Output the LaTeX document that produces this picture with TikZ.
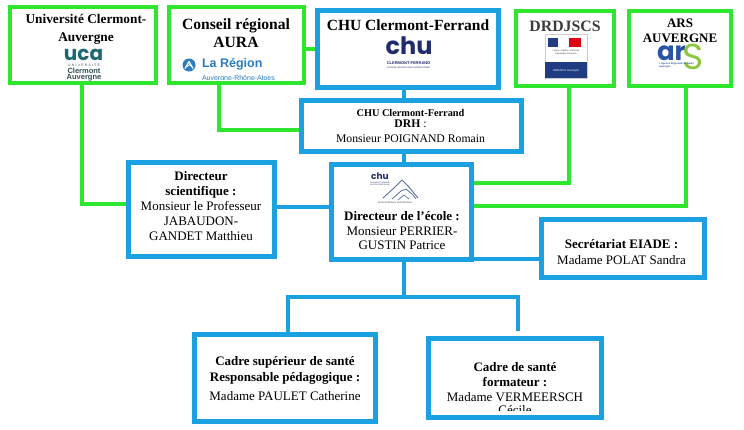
\documentclass[tikz,border=0pt]{standalone}
\usepackage{fontspec}
\setmainfont{Liberation Serif}
\newfontfamily\logosans{Liberation Sans}
\newfontfamily\logogeo{Poppins}
\usetikzlibrary{calc}
\pgfdeclarelayer{background}
\pgfsetlayers{background,main}
\definecolor{gboxc}{RGB}{46,230,46}
\definecolor{bboxc}{RGB}{27,161,226}
\definecolor{ucateal}{RGB}{30,104,114}
\definecolor{ucagray}{RGB}{50,80,88}
\definecolor{regblue}{RGB}{43,125,192}
\definecolor{chunavy}{RGB}{30,43,110}
\definecolor{mfblue}{RGB}{32,60,130}
\definecolor{mfred}{RGB}{225,0,15}
\definecolor{arsblue}{RGB}{41,84,163}
\definecolor{arsgreen}{RGB}{140,198,62}
\definecolor{mtn}{RGB}{92,110,158}
\definecolor{titlegray}{RGB}{60,60,60}
\tikzset{
  gbox/.style={draw=gboxc, line width=4pt, fill=white, inner sep=0pt, outer sep=0pt},
  bbox/.style={draw=bboxc, line width=5pt, fill=white, inner sep=0pt, outer sep=0pt},
  gline/.style={draw=gboxc, line width=4pt},
  bline/.style={draw=bboxc, line width=4pt},
  txt/.style={align=center, inner sep=0pt, text=black},
  logo/.style={inner sep=0pt, outer sep=0pt}
}
\begin{document}
\begin{tikzpicture}[x=1pt,y=-1pt]
\useasboundingbox (0,0) rectangle (744,429);
% boxes
\node[gbox, minimum width=146pt, minimum height=76pt] (uca) at (83,45) {};
\node[gbox, minimum width=135pt, minimum height=76pt] (conseil) at (236.5,45) {};
\node[bbox, minimum width=181pt, minimum height=77pt] (chu) at (407.5,48.5) {};
\node[gbox, minimum width=98pt, minimum height=75pt] (drd) at (565,48.5) {};
\node[gbox, minimum width=102pt, minimum height=75pt] (ars) at (680,48.5) {};
\node[bbox, minimum width=220pt, minimum height=51pt] (drh) at (411,125.5) {};
\node[bbox, minimum width=146pt, minimum height=94pt] (sci) at (201,209) {};
\node[bbox, minimum width=140pt, minimum height=95pt] (ecole) at (401,211.5) {};
\node[bbox, minimum width=163pt, minimum height=58pt] (secr) at (622.5,248) {};
\node[bbox, minimum width=181pt, minimum height=87pt] (cadsup) at (284.5,377.5) {};
\node[bbox, minimum width=173pt, minimum height=79pt] (cadre) at (514.5,377.5) {};
\coordinate (spine) at (404,0);
\coordinate (fork) at (404,297);
\coordinate (forkL) at (288,297);
\coordinate (forkR) at (518,297);
\coordinate (endR) at (518,331);
% connectors
\begin{pgfonlayer}{background}
\fill[white] (0,0) rectangle (744,429);
\draw[gline] (uca.south) ++(-1,0) |- ([yshift=5pt]sci.west);
\draw[gline] ([xshift=-17.5pt]conseil.south) |- ([yshift=-4.5pt]drh.west);
\draw[gline] (conseil.east |- chu.west) -- (chu.west);
\draw[gline] ([xshift=4pt]drd.south) |- ([yshift=28.5pt]ecole.east);
\draw[gline] ([xshift=6pt]ars.south) |- ([yshift=5.5pt]ecole.east);
\draw[bline] (chu.south -| spine) -- (drh.north -| spine);
\draw[bline] (drh.south -| spine) -- (ecole.north -| spine);
\draw[bline] ([yshift=2pt]sci.east) -- ([yshift=2pt]sci.east -| ecole.west);
\draw[bline] (ecole.south east) -- (ecole.south east -| secr.west);
\draw[bline] (ecole.south -| fork) -- (fork);
\draw[bline] (cadsup.north -| forkL) -- (forkL) -- (forkR) -- (endR);
\end{pgfonlayer}
% titles
\node[txt, font=\fontsize{13.3}{18}\selectfont\bfseries] (ucaT) at (86,29.5) {Université Clermont-\\Auvergne};
\node[txt, font=\fontsize{15.6}{18}\selectfont\bfseries] (conT) at (236,33) {Conseil régional\\AURA};
\node[txt, font=\fontsize{15.5}{18}\selectfont\bfseries] (chuT) at (408,25) {CHU Clermont-Ferrand};
\node[txt, font=\fontsize{15.8}{18}\selectfont\bfseries, text=titlegray] (drdT) at (565,26) {DRDJSCS};
\node[txt, font=\fontsize{13}{15}\selectfont\bfseries] (arsT) at (680,30.5) {ARS\\AUVERGNE};
% UCA logo
\node[logo, anchor=base, font=\logogeo\bfseries\fontsize{20}{20}\selectfont, text=ucateal] (ucaL) at (83.5,60) {uca};
\node[logo, font=\logosans\fontsize{3.3}{4}\selectfont\addfontfeature{LetterSpace=40}, text=ucagray] (ucaU) at (84,65.5) {UNIVERSITÉ};
\node[logo, font=\logosans\bfseries\fontsize{7.5}{7.5}\selectfont, text=ucagray] (ucaC) at (84,71) {Clermont};
\node[logo, font=\logosans\bfseries\fontsize{7.5}{7.5}\selectfont, text=ucagray] (ucaA) at (84,77.5) {Auvergne};
% La Region logo
\fill[regblue] (189,65) circle (6.5);
\draw[white, line width=1.2pt, line join=round] (185,68.5) -- (189,61.5) -- (193,68.5);
\draw[white, line width=1pt] (186.8,66.5) -- (190,64.5) -- (191.8,66.5);
\node[logo, anchor=west, font=\logosans\bfseries\fontsize{12.5}{12.5}\selectfont, text=regblue] (regT) at (202,64) {La Région};
\begin{scope}
\clip (170,50) rectangle (302,79);
\node[logo, anchor=west, font=\logosans\fontsize{7}{7}\selectfont, text=regblue] (regS) at (202,79) {Auvergne-Rhône-Alpes};
\end{scope}
% CHU logo
\node[logo, font=\logogeo\bfseries\fontsize{24}{24}\selectfont, text=chunavy] (chuL) at (409,46) {chu};
\node[logo, font=\logosans\bfseries\fontsize{4}{4}\selectfont, text=chunavy] (chuC) at (408.5,63) {CLERMONT-FERRAND};
\node[logo, font=\logosans\fontsize{2.3}{2.3}\selectfont, text=chunavy] (chuH) at (408.5,68) {CENTRE HOSPITALIER UNIVERSITAIRE};
% DRDJSCS logo
\draw[gray!40, line width=0.4pt, fill=white] (545,34) rectangle (587,78);
\fill[mfblue] (548,38) rectangle (558,47);
\fill[mfred] (569,38) rectangle (581,47);
\node[logo, font=\logosans\fontsize{2.2}{2.6}\selectfont, text=darkgray, align=center] (mfT) at (566,52) {Liberté • Égalité • Fraternité\\République Française};
\fill[mfblue] (545,62) rectangle (587,78);
\node[logo, font=\logosans\fontsize{2.8}{3}\selectfont, text=white] (mfD) at (566,71) {DRDJSCS Auvergne};
% ARS logo
\node[logo, anchor=base west, font=\logogeo\bfseries\fontsize{26}{26}\selectfont, text=arsblue] (arsL) at (657,60) {ar};
\node[logo, anchor=base west, font=\logogeo\fontsize{36}{36}\selectfont, text=arsgreen] (arsS) at (682,69) {S};
\node[logo, anchor=north west, align=left, font=\logosans\bfseries\fontsize{2.5}{3}\selectfont, text=arsblue] (arsA) at (659,62.5) {\textcolor{mfred}{+} Agence Régionale de Santé\\Auvergne};
% Ecole logo
\node[logo, font=\logogeo\bfseries\fontsize{9}{9}\selectfont, text=chunavy] (ecL) at (380,176) {chu};
\node[logo, font=\logosans\fontsize{1.8}{2.2}\selectfont, text=chunavy, align=center] (ecC) at (380,183.5) {CLERMONT-FERRAND\\CENTRE HOSPITALIER};
\draw[mtn, line width=0.9pt, line join=round] (383,198) -- (394,188) -- (402,180) -- (408,186) -- (418,198);
\draw[mtn, line width=0.8pt, line join=round] (392,199) -- (401,191) -- (406,189) -- (413,195) -- (416,199);
\draw[mtn, line width=0.7pt, line join=round] (398,200) -- (404,195) -- (409,199);
\node[logo, font=\logosans\fontsize{2.4}{2.4}\selectfont, text=darkgray] (ecS) at (395,202.5) {École d'Infirmiers Anesthésistes};
% box texts
\node[txt, font=\fontsize{11.7}{11.5}\selectfont] (drhT) at (410.5,126) {{\fontsize{10.3}{11.5}\selectfont\bfseries CHU Clermont-Ferrand}\\\textbf{DRH} :\\[3.5pt]Monsieur POIGNAND Romain};
\node[txt, font=\fontsize{13}{15}\selectfont] (sciT) at (201,206) {\textbf{Directeur}\\\textbf{scientifique :}\\Monsieur le Professeur\\JABAUDON-\\GANDET Matthieu};
\node[txt, font=\fontsize{13}{14.5}\selectfont] (ecT) at (402,231) {\textbf{Directeur de l’école :}\\Monsieur PERRIER-\\GUSTIN Patrice};
\node[txt, font=\fontsize{13}{16}\selectfont] (secT) at (621.5,252) {\textbf{Secrétariat EIADE :}\\Madame POLAT Sandra};
\node[txt, font=\fontsize{13}{16}\selectfont] (csT) at (285,379) {\textbf{Cadre supérieur de santé}\\\textbf{Responsable pédagogique :}\\[3pt]Madame PAULET Catherine};
\begin{scope}
\clip (428,338) rectangle (601,410.5);
\node[txt, font=\fontsize{13}{15}\selectfont] (cdT) at (515,388.5) {\textbf{Cadre de santé}\\\textbf{formateur :}\\Madame VERMEERSCH\\[-2pt]Cécile};
\end{scope}
\end{tikzpicture}
\end{document}
